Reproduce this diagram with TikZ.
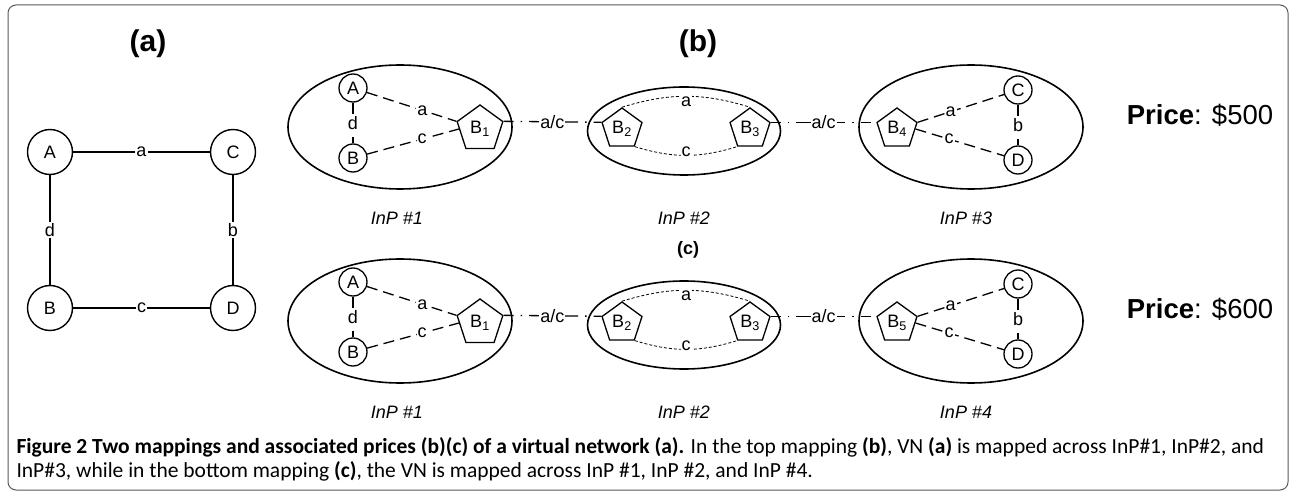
\documentclass[tikz,border=0pt]{standalone}
\usepackage{fontspec}
\setmainfont{Liberation Sans}
\newfontfamily\capfont{Carlito}
\usetikzlibrary{shapes.geometric}

\tikzset{
  vnode/.style={circle, draw, line width=1.4pt, minimum size=45pt, inner sep=0pt, font=\fontsize{18}{20}\selectfont},
  snode/.style={circle, draw, line width=1.3pt, minimum size=28pt, inner sep=0pt, font=\fontsize{18}{20}\selectfont},
  bnode/.style={regular polygon, regular polygon sides=5, draw, line width=1.3pt, minimum size=42pt, inner sep=0pt, font=\fontsize{18}{20}\selectfont},
  inp/.style={ellipse, draw, line width=1.6pt, inner sep=0pt},
  vlink/.style={line width=1.5pt},
  slink/.style={line width=1.3pt, dash pattern=on 11pt off 6pt},
  thinlink/.style={line width=0.8pt, dash pattern=on 3pt off 2pt},
  aclink/.style={line width=1.3pt, dash pattern=on 10pt off 7pt on 1.5pt off 7pt on 49pt off 7pt on 1.5pt off 7pt on 10pt},
  lbl/.style={fill=white, inner sep=1pt, font=\fontsize{18}{20}\selectfont},
  inplbl/.style={font=\fontsize{18}{20}\selectfont\itshape},
  big/.style={font=\fontsize{30}{34}\selectfont\bfseries},
}

\begin{document}
\begin{tikzpicture}[x=1pt, y=-1pt]
  \useasboundingbox (0,0) rectangle (1294,497);
  \draw[rounded corners=8pt, line width=1pt, black!65] (8,5) rectangle (1288,490);

  \node[big] (ta) at (148,44) {(a)};
  \node[big] (tb) at (698,44) {(b)};
  \node[font=\fontsize{18}{20}\selectfont\bfseries] (tc) at (688,250) {(c)};

  \node[vnode] (A) at (50,152) {A};
  \node[vnode] (C) at (233,152) {C};
  \node[vnode] (B) at (50,308) {B};
  \node[vnode] (D) at (233,308) {D};
  \draw[vlink] (A) -- node[lbl] {a} (C);
  \draw[vlink] (C) -- node[lbl] {b} (D);
  \draw[vlink] (B) -- node[lbl] {c} (D);
  \draw[vlink] (A) -- node[lbl] {d} (B);

  \foreach \r/\dy/\bn/\ip/\pr in {t/0/4/3/500, u/194/5/4/600}{
  \begin{scope}[shift={(0,\dy)}]
    \node[inp, minimum width=224pt, minimum height=124pt] (ea\r) at (400,127) {};
    \node[inp, minimum width=193pt, minimum height=88pt] (eb\r) at (684,131) {};
    \node[inp, minimum width=224pt, minimum height=124pt] (ec\r) at (971,127) {};

    \node[snode] (A\r) at (353,88) {A};
    \node[snode] (B\r) at (353,158) {B};
    \node[bnode, minimum size=48pt] (Ba\r) at (480,129) {B\textsubscript{1}};
    \node[bnode] (Bb\r) at (622,129) {B\textsubscript{2}};
    \node[bnode] (Bc\r) at (750,129) {B\textsubscript{3}};
    \node[bnode] (Bd\r) at (897,129) {B\textsubscript{\bn}};
    \node[snode] (C\r) at (1018,90) {C};
    \node[snode] (D\r) at (1018,160) {D};

    \draw[slink] (A\r) -- node[lbl] {d} (B\r);
    \draw[slink] (A\r) -- node[lbl, pos=0.62] {a} (Ba\r.corner 2);
    \draw[slink] (B\r) -- node[lbl, pos=0.6] {c} (Ba\r.west);
    \draw[aclink] (Ba\r.corner 5) -- node[lbl] {a/c} (Bb\r.corner 2);
    \draw[thinlink] (Bb\r.corner 1) to[bend left=17] node[lbl, yshift=-5pt] {a} (Bc\r.corner 1);
    \draw[thinlink] (Bb\r.corner 4) to[bend right=17] node[lbl, yshift=4pt] {c} (Bc\r.corner 3);
    \draw[aclink] (Bc\r.corner 5) -- node[lbl] {a/c} (Bd\r.corner 2);
    \draw[slink] (Bd\r.corner 5) -- node[lbl, pos=0.38] {a} (C\r);
    \draw[slink] (Bd\r.east) -- node[lbl, pos=0.38] {c} (D\r);
    \draw[slink] (C\r) -- node[lbl] {b} (D\r);

    \node[inplbl] (ia\r) at (397,218) {InP \#1};
    \node[inplbl] (ib\r) at (684,218) {InP \#2};
    \node[inplbl] (ic\r) at (966,218) {InP \#\ip};
    \node[font=\fontsize{27.5}{30}\selectfont] (price\r) at (1200,115) {\textbf{Price}: \$\pr};
  \end{scope}
  }

  \node[anchor=west, align=left, font=\capfont\fontsize{21.5}{24}\selectfont] (cap) at (13,459)
    {\textbf{Figure 2 Two mappings and associated prices (b)(c) of a virtual network (a).} In the top mapping \textbf{(b)}, VN \textbf{(a)} is mapped across InP\#1, InP\#2, and\\
     InP\#3, while in the bottom mapping \textbf{(c)}, the VN is mapped across InP \#1, InP \#2, and InP \#4.};
\end{tikzpicture}
\end{document}
